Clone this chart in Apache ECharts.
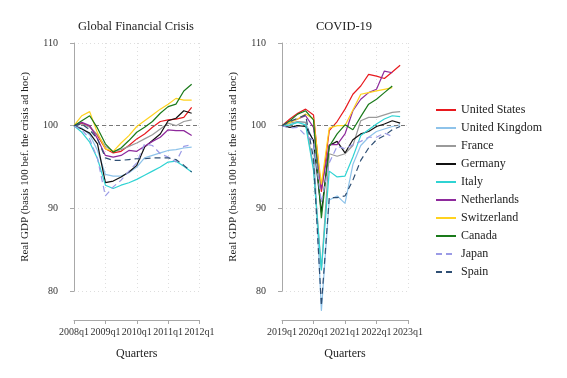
<!DOCTYPE html>
<html>
<head>
<meta charset="utf-8">
<script src="https://cdn.jsdelivr.net/npm/echarts@6/dist/echarts.min.js"></script>
<style>
html,body{margin:0;padding:0;background:#fff;}
#c{width:567px;height:378px;}
</style>
</head>
<body>
<div id="c"></div>
<script>
// Categories
const countries = ['United States','United Kingdom','France','Germany','Italy','Netherlands','Switzerland','Canada','Japan','Spain'];
const gfcTicks = ['2008q1','2009q1','2010q1','2011q1','2012q1'];
const covidTicks = ['2019q1','2020q1','2021q1','2022q1','2023q1'];
const panelTitles = ['Global Financial Crisis','COVID-19'];
const yTitle = 'Real GDP (basis 100 bef. the crisis ad hoc)';
const xTitle = 'Quarters';

// Global Financial Crisis, quarterly from 2008q1
const gfcUS = [100, 100.3, 99.9, 98.8, 97.2, 96.7, 96.9, 97.6, 98.4, 99.0, 99.8, 100.5, 100.7, 100.8, 101.0, 102.2];
const gfcUK = [100, 99.7, 98.9, 97.0, 94.1, 93.9, 93.9, 94.3, 95.0, 96.1, 96.4, 96.7, 97.0, 97.1, 97.3, 97.4];
const gfcFR = [100, 100.2, 99.8, 98.9, 97.5, 96.9, 97.1, 97.5, 97.9, 98.4, 98.9, 99.6, 100.3, 100.0, 100.5, 100.7];
const gfcDE = [100, 99.6, 99.1, 97.8, 93.1, 93.3, 93.8, 94.4, 95.2, 97.4, 98.2, 99.0, 100.6, 100.9, 101.8, 101.5];
const gfcIT = [100, 99.2, 98.0, 96.0, 92.8, 92.4, 92.8, 93.1, 93.5, 94.0, 94.5, 95.0, 95.6, 95.7, 95.1, 94.4];
const gfcNL = [100, 100.4, 100.0, 98.4, 96.4, 96.2, 96.4, 97.0, 96.9, 97.5, 98.1, 98.6, 99.5, 99.4, 99.4, 98.8];
const gfcCH = [100, 101.2, 101.7, 99.1, 97.2, 96.9, 97.9, 98.8, 99.9, 100.6, 101.3, 102.0, 102.6, 103.3, 103.1, 103.1];
const gfcCA = [100, 100.6, 101.2, 99.7, 97.8, 96.8, 97.3, 98.2, 99.2, 99.8, 100.5, 101.5, 102.3, 102.6, 104.2, 105.0];
const gfcJP = [100, 99.5, 98.4, 96.0, 91.5, 92.6, 93.4, 94.5, 95.5, 97.8, 97.6, 96.6, 96.2, 95.6, 97.5, 97.7];
const gfcES = [100, 100.2, 99.5, 98.4, 96.1, 95.8, 95.8, 95.9, 96.0, 96.0, 96.1, 96.1, 96.1, 95.9, 95.2, 94.4];

// COVID-19, quarterly from 2019q1
const covUS = [100, 100.8, 101.5, 102.0, 101.3, 92.0, 99.4, 100.5, 102.0, 103.8, 104.8, 106.2, 106.0, 105.7, 106.5, 107.3];
const covUK = [100, 100.0, 100.5, 100.4, 98.0, 77.6, 91.0, 91.5, 90.6, 95.3, 97.6, 98.6, 99.3, 99.6, 99.9, 100.1];
const covFR = [100, 100.3, 100.5, 100.4, 95.0, 82.6, 96.6, 96.3, 96.6, 97.6, 100.6, 101.0, 101.0, 101.3, 101.6, 101.7];
const covDE = [100, 99.8, 100.0, 99.9, 98.2, 89.5, 97.6, 98.1, 96.7, 98.3, 99.0, 99.3, 99.9, 100.2, 100.6, 100.3];
const covIT = [100, 100.1, 100.4, 100.1, 94.6, 82.5, 94.5, 93.8, 93.9, 96.2, 98.8, 99.5, 100.2, 100.8, 101.2, 101.1];
const covNL = [100, 100.5, 100.8, 101.2, 99.8, 92.3, 97.7, 97.7, 99.0, 101.8, 103.2, 104.0, 104.4, 106.6, 106.4];
const covCH = [100, 100.4, 100.8, 101.4, 100.8, 92.9, 99.7, 100.0, 100.0, 101.9, 103.8, 104.0, 104.2, 104.4, 104.6];
const covCA = [100, 100.6, 101.4, 101.8, 100.7, 88.8, 97.5, 99.0, 100.1, 99.5, 101.1, 102.6, 103.2, 104.0, 104.8];
const covJP = [100, 99.7, 99.8, 98.8, 98.2, 90.7, 95.5, 97.5, 97.2, 97.7, 98.1, 98.6, 98.6, 99.1, 98.7];
const covES = [100, 100.5, 100.9, 101.3, 96.0, 78.2, 91.3, 91.3, 91.5, 93.4, 95.8, 97.3, 98.3, 98.8, 99.5, 99.9];

const gfcSeries = [gfcUS, gfcUK, gfcFR, gfcDE, gfcIT, gfcNL, gfcCH, gfcCA, gfcJP, gfcES];
const covSeries = [covUS, covUK, covFR, covDE, covIT, covNL, covCH, covCA, covJP, covES];

// Styles
const colors = ['#e8191e','#8ec3ea','#9a9a9a','#111111','#2fd3d3','#8e2a9c','#ffd21f','#1a7a1a','#9b9be6','#2f4f74'];
const dashed = [false,false,false,false,false,false,false,false,true,true];
const FONT = '"Liberation Serif","DejaVu Serif",serif';

function makeSeries(arrs, gi) {
  return arrs.map((arr, k) => {
    const s = {
      name: countries[k],
      type: 'line',
      xAxisIndex: gi,
      yAxisIndex: gi,
      symbol: 'none',
      showSymbol: false,
      smooth: false,
      clip: false,
      data: arr.map((v, i) => [i, v]),
      lineStyle: {color: colors[k], width: 1.2, type: dashed[k] ? [6, 4] : 'solid'},
      itemStyle: {color: colors[k]},
      z: 3 + k,
      animation: false
    };
    if (k === 0) {
      s.markLine = {
        silent: true, symbol: 'none', animation: false,
        label: {show: false},
        lineStyle: {color: '#777', type: [4, 3], width: 1},
        data: [{yAxis: 100}]
      };
    }
    return s;
  });
}

function xAx(gi, ticks) {
  return {
    type: 'value', gridIndex: gi, min: 0, max: 16, interval: 4,
    offset: 29,
    name: xTitle, nameLocation: 'middle', nameGap: 28,
    nameTextStyle: {fontFamily: FONT, fontSize: 12, color: '#222'},
    axisLine: {show: true, lineStyle: {color: '#a8a8a8', width: 1}},
    axisTick: {show: true, length: 4, lineStyle: {color: '#a8a8a8'}},
    axisLabel: {fontFamily: FONT, fontSize: 10, color: '#333', margin: 7,
      formatter: v => ticks[v / 4]},
    splitLine: {show: true, lineStyle: {color: '#dedede', type: [1, 3], width: 1}}
  };
}
function yAx(gi) {
  return {
    type: 'value', gridIndex: gi, min: 80, max: 110, interval: 10,
    offset: 8,
    name: yTitle, nameLocation: 'middle', nameGap: 35, nameRotate: 90,
    nameTextStyle: {fontFamily: FONT, fontSize: 11, color: '#222'},
    axisLine: {show: true, lineStyle: {color: '#a8a8a8', width: 1}},
    axisTick: {show: true, length: 4, lineStyle: {color: '#a8a8a8'}},
    axisLabel: {fontFamily: FONT, fontSize: 10, color: '#333', margin: 8},
    splitLine: {show: true, lineStyle: {color: '#dedede', type: [1, 3], width: 1}}
  };
}

const chart = echarts.init(document.getElementById('c'), null, {renderer: 'canvas'});
chart.setOption({
  backgroundColor: '#fff',
  animation: false,
  title: [
    {text: panelTitles[0], left: 131, top: 15, textAlign: 'center',
     textStyle: {fontFamily: FONT, fontSize: 12.5, fontWeight: 'normal', color: '#222'}},
    {text: panelTitles[1], left: 339, top: 15, textAlign: 'center',
     textStyle: {fontFamily: FONT, fontSize: 12.5, fontWeight: 'normal', color: '#222'}}
  ],
  legend: {
    orient: 'vertical', left: 430, top: 99,
    itemWidth: 20, itemHeight: 12, itemGap: 6,
    data: countries,
    itemStyle: {opacity: 0},
    textStyle: {fontFamily: FONT, fontSize: 12, color: '#222'},
    selectedMode: false
  },
  grid: [
    {left: 74, top: 43, width: 125.5, height: 248},
    {left: 282, top: 43, width: 126, height: 248}
  ],
  xAxis: [xAx(0, gfcTicks), xAx(1, covidTicks)],
  yAxis: [yAx(0), yAx(1)],
  series: makeSeries(gfcSeries, 0).concat(makeSeries(covSeries, 1))
});
</script>
</body>
</html>
